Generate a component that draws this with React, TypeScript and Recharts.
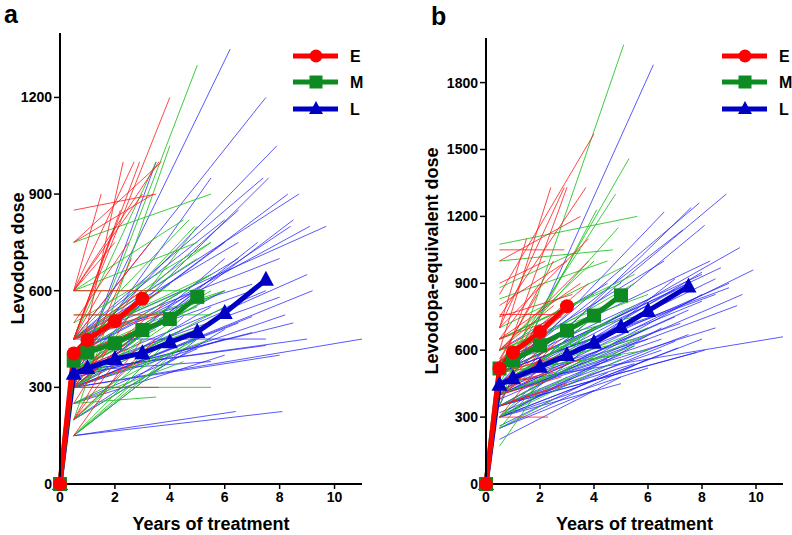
import React from 'react';
import { LineChart, Line, XAxis, YAxis } from 'recharts';

// ---------- shared ----------
const START_YEAR = 0.5;
const xTicks = [0, 2, 4, 6, 8, 10];
const groupNames = ['E', 'M', 'L'];

const yearsE = [0, 0.5, 1, 2, 3];
const yearsM = [0, 0.5, 1, 2, 3, 4, 5];
const yearsL = [0, 0.5, 1, 2, 3, 4, 5, 6, 7.5];

// ---------- panel a : Levodopa dose ----------
const aYTicks = [0, 300, 600, 900, 1200];
const aMeanE = [0, 405, 447, 505, 575];
const aMeanM = [0, 383, 408, 437, 478, 512, 581];
const aMeanL = [0, 342, 360, 388, 406, 440, 472, 531, 634];

// individual subjects: [start value at 0.5 y, end year, end value]
const aLinesE: number[][] = [
  [850, 3.5, 900], [750, 3.7, 1000], [750, 3.4, 900], [450, 4.0, 1200], [300, 2.3, 1000],
  [450, 2.9, 1000], [600, 3.6, 1000], [600, 2.7, 1000], [450, 3.3, 750], [600, 3.0, 900],
  [450, 2.0, 800], [300, 2.6, 700], [450, 3.0, 600], [525, 3.6, 525], [300, 3.6, 300],
  [200, 3.5, 450], [150, 3.0, 450], [300, 3.3, 500], [450, 3.7, 600], [400, 3.0, 580],
  [500, 2.5, 750], [350, 2.8, 600], [250, 2.5, 520], [600, 1.5, 900], [450, 2.2, 850],
  [330, 3.8, 560], [200, 2.2, 400], [450, 3.9, 530], [600, 2.0, 750], [300, 1.8, 450],
  [450, 3.0, 520], [300, 2.0, 450], [400, 3.5, 500], [450, 1.5, 600], [350, 2.5, 420],
  [200, 1.5, 350], [600, 3.5, 600], [300, 3.0, 380],
];
const aLinesM: number[][] = [
  [300, 5.0, 1300], [200, 4.0, 1050], [750, 5.5, 900], [450, 4.7, 820], [400, 4.9, 800],
  [450, 5.5, 750], [600, 5.3, 600], [300, 5.5, 300], [150, 4.0, 450], [525, 5.5, 525],
  [250, 3.5, 270], [450, 5.0, 700], [600, 4.5, 820], [400, 6.0, 600], [350, 5.5, 600],
  [300, 4.5, 560], [150, 5.5, 500], [200, 4.5, 520], [450, 3.5, 1000], [300, 5.0, 800],
  [400, 5.5, 650], [350, 4.0, 550], [250, 5.0, 450], [450, 4.5, 600], [500, 5.5, 750],
  [300, 3.0, 450], [150, 2.5, 300], [350, 5.5, 580], [600, 5.0, 750], [200, 3.5, 420],
  [300, 4.0, 500], [350, 5.0, 480], [400, 4.0, 620], [300, 5.5, 450], [450, 6.0, 600],
  [250, 4.5, 380], [350, 3.5, 480], [400, 5.0, 550], [200, 4.0, 380], [300, 6.0, 550],
  [450, 5.5, 650], [150, 3.5, 350],
];
const aLinesL: number[][] = [
  [350, 6.2, 1350], [450, 7.5, 1200], [400, 7.9, 1050], [450, 7.4, 950], [350, 7.6, 950],
  [400, 8.3, 900], [450, 8.7, 900], [300, 8.5, 820], [350, 8.4, 800], [400, 9.1, 800],
  [450, 9.7, 800], [300, 7.2, 750], [450, 6.5, 750], [300, 9.2, 600], [300, 11.0, 450],
  [150, 8.1, 225], [150, 6.4, 225], [350, 9.0, 450], [300, 8.0, 400], [450, 7.5, 450],
  [330, 8.5, 500], [300, 8.2, 525], [350, 7.5, 600], [400, 7.0, 600], [300, 6.0, 700],
  [150, 5.0, 450], [300, 5.5, 550], [200, 6.0, 480], [300, 3.5, 1000], [350, 5.5, 950],
  [400, 6.5, 850], [450, 7.0, 620], [300, 6.5, 500], [350, 7.5, 430], [250, 6.0, 400],
  [330, 7.0, 470], [300, 5.0, 600], [400, 6.0, 750], [350, 5.5, 380], [450, 8.0, 700],
  [300, 4.0, 550], [350, 6.0, 600], [300, 7.0, 520], [400, 5.0, 600], [250, 5.0, 420],
  [300, 4.5, 480], [350, 8.0, 580], [400, 6.5, 700], [300, 6.0, 450], [200, 4.0, 400],
  [330, 9.0, 650], [450, 6.0, 820],
];

// ---------- panel b : Levodopa-equivalent dose ----------
const bYTicks = [0, 300, 600, 900, 1200, 1500, 1800];
const bMeanE = [0, 518, 590, 682, 797];
const bMeanM = [0, 518, 555, 622, 688, 755, 846];
const bMeanL = [0, 445, 474, 526, 578, 633, 704, 776, 886];

const bLinesE: number[][] = [
  [1050, 2.9, 1050], [1000, 3.5, 1200], [850, 4.0, 1570], [600, 2.4, 1330], [700, 2.9, 1330],
  [500, 3.0, 1330], [750, 3.7, 1330], [300, 2.3, 300], [760, 2.6, 760], [600, 3.8, 1000],
  [650, 3.5, 900], [550, 2.5, 1000], [450, 2.8, 650], [400, 2.0, 550], [350, 3.0, 450],
  [500, 3.2, 800], [700, 1.5, 1100], [600, 2.0, 700], [450, 2.5, 500], [550, 3.8, 900],
  [380, 2.5, 620], [800, 3.0, 1000], [650, 2.0, 900], [300, 1.8, 500], [500, 3.5, 600],
  [700, 3.8, 1100], [900, 2.2, 1000], [560, 1.9, 850],
  [500, 2.0, 650], [450, 3.0, 700], [600, 2.5, 800], [400, 2.8, 480], [550, 3.2, 700],
  [650, 2.8, 750], [350, 2.2, 420], [750, 3.2, 850], [500, 1.5, 600], [420, 3.5, 560],
];
const bLinesM: number[][] = [
  [350, 5.1, 1970], [1075, 5.6, 1200], [450, 5.3, 1460], [500, 4.8, 1300], [400, 4.1, 1230],
  [550, 4.9, 1150], [1000, 4.7, 1050], [830, 4.5, 1000], [650, 5.0, 900], [600, 6.0, 850],
  [170, 2.0, 430], [300, 5.0, 560], [450, 6.0, 700], [500, 5.5, 650], [400, 4.5, 800],
  [600, 4.0, 1000], [350, 3.5, 550], [550, 5.5, 900], [700, 5.2, 980], [450, 4.0, 700],
  [250, 3.0, 600], [500, 6.0, 600], [650, 4.0, 850], [400, 5.5, 620], [550, 3.0, 800],
  [300, 4.0, 700], [600, 5.5, 750], [880, 3.5, 1050],
  [400, 3.5, 650], [500, 4.5, 720], [350, 4.0, 520], [450, 5.5, 800], [300, 3.0, 480],
  [600, 4.8, 820], [400, 6.0, 670], [550, 4.0, 650], [250, 2.5, 380], [500, 5.0, 580],
  [450, 3.0, 620], [650, 5.5, 940],
];
const bLinesL: number[][] = [
  [350, 6.2, 1880], [450, 8.9, 1300], [500, 7.9, 1260], [400, 7.6, 1240], [450, 6.6, 1220],
  [400, 8.1, 1160], [500, 7.3, 1140], [450, 9.4, 1060], [500, 8.7, 970], [400, 9.9, 960],
  [550, 6.6, 1000], [450, 11.0, 660], [350, 8.1, 600], [400, 9.3, 800], [300, 7.1, 610],
  [350, 7.5, 670], [300, 7.0, 920], [450, 8.5, 920], [350, 8.0, 850], [250, 6.0, 560],
  [200, 5.0, 480], [400, 7.0, 750], [500, 8.5, 850], [450, 7.5, 900], [350, 6.0, 700],
  [300, 5.5, 620], [400, 6.5, 650], [450, 9.0, 900], [500, 6.0, 800], [260, 4.5, 500],
  [350, 5.0, 580], [400, 8.0, 950], [300, 6.5, 700], [450, 4.0, 700], [500, 5.0, 700],
  [350, 7.8, 590], [600, 4.5, 900], [400, 3.5, 700], [320, 7.0, 640], [550, 8.3, 1000],
  [400, 7.5, 780], [450, 8.0, 820], [350, 6.5, 600], [500, 7.0, 870], [300, 8.0, 650],
  [400, 8.5, 700], [450, 6.0, 650], [350, 5.5, 540], [500, 9.0, 880], [300, 6.0, 520],
  [250, 4.0, 420], [400, 4.5, 560], [450, 7.2, 720], [380, 9.5, 850], [520, 8.0, 940],
  [300, 5.0, 450],
];

// ---------- styles ----------
const THIN = { E: '#ff1a1a', M: '#1fc21f', L: '#2222ff' };
const MEAN = { E: '#ff0000', M: '#0e8a22', L: '#0000c4' };
const FONT = 'Arial, "Liberation Sans", Helvetica, sans-serif';

const toSeg = (l: number[]) => [
  { x: START_YEAR, y: l[0] },
  { x: l[1], y: l[2] },
];
const toMean = (years: number[], vals: number[]) => years.map((x, i) => ({ x, y: vals[i] }));

const circleDot = (color: string) => (p: any) => {
  if (p.cx == null || p.cy == null) return <g key={`c${p.index}`} />;
  return <circle key={`c${p.index}`} cx={p.cx} cy={p.cy} r={7} fill={color} />;
};
const squareDot = (color: string) => (p: any) => {
  if (p.cx == null || p.cy == null) return <g key={`s${p.index}`} />;
  return <rect key={`s${p.index}`} x={p.cx - 7} y={p.cy - 7} width={14} height={14} fill={color} />;
};
const triDot = (color: string) => (p: any) => {
  if (p.cx == null || p.cy == null) return <g key={`t${p.index}`} />;
  return (
    <polygon
      key={`t${p.index}`}
      points={`${p.cx},${p.cy - 9} ${p.cx - 8},${p.cy + 6} ${p.cx + 8},${p.cy + 6}`}
      fill={color}
    />
  );
};

const LegendBox = ({ left, top }: { left: number; top: number }) => {
  const rows = [
    { name: groupNames[0], color: MEAN.E, shape: 'c', y: 16 },
    { name: groupNames[1], color: MEAN.M, shape: 's', y: 42 },
    { name: groupNames[2], color: MEAN.L, shape: 't', y: 69 },
  ];
  return (
    <svg width={80} height={85} style={{ position: 'absolute', left, top, display: 'block' }}>
      {rows.map((r) => (
        <g key={r.name}>
          <line x1={3} x2={48} y1={r.y} y2={r.y} stroke={r.color} strokeWidth={5} />
          {r.shape === 'c' && <circle cx={26} cy={r.y} r={6.5} fill={r.color} />}
          {r.shape === 's' && <rect x={19.5} y={r.y - 6.5} width={13} height={13} fill={r.color} />}
          {r.shape === 't' && (
            <polygon points={`26,${r.y - 8} 19,${r.y + 5} 33,${r.y + 5}`} fill={r.color} />
          )}
          <text
            x={60}
            y={r.y}
            dominantBaseline="central"
            fontFamily={FONT}
            fontWeight="bold"
            fontSize={16}
            fill="#000"
          >
            {r.name}
          </text>
        </g>
      ))}
    </svg>
  );
};

const tickStyle = { fontFamily: FONT, fontWeight: 'bold' as const, fontSize: 14, fill: '#000' };

type PanelProps = {
  yMax: number;
  yTicks: number[];
  yTitle: string;
  yAxisWidth: number;
  yTitleX: number;
  margin: { top: number; right: number; left: number; bottom: number };
  linesE: number[][];
  linesM: number[][];
  linesL: number[][];
  meanE: number[];
  meanM: number[];
  meanL: number[];
};

const Panel = (p: PanelProps) => (
  <LineChart width={396} height={535} margin={p.margin}>
    <XAxis
      type="number"
      dataKey="x"
      domain={[0, 11]}
      ticks={xTicks}
      height={45}
      tick={tickStyle}
      tickSize={5}
      tickMargin={3}
      axisLine={{ stroke: '#000', strokeWidth: 2 }}
      tickLine={{ stroke: '#000', strokeWidth: 1.5 }}
      label={(lp: any) => {
        const vb = lp.viewBox || {};
        return (
          <text
            x={vb.x + vb.width / 2}
            y={vb.y + 46}
            textAnchor="middle"
            fontFamily={FONT}
            fontWeight="bold"
            fontSize={18}
            fill="#000"
          >
            Years of treatment
          </text>
        );
      }}
    />
    <YAxis
      type="number"
      dataKey="y"
      domain={[0, p.yMax]}
      ticks={p.yTicks}
      width={p.yAxisWidth}
      tick={tickStyle}
      tickSize={6}
      tickMargin={2}
      axisLine={{ stroke: '#000', strokeWidth: 2 }}
      tickLine={{ stroke: '#000', strokeWidth: 1.5 }}
      label={(lp: any) => {
        const vb = lp.viewBox || {};
        const cy = vb.y + vb.height / 2;
        return (
          <text
            x={p.yTitleX}
            y={cy}
            transform={`rotate(-90 ${p.yTitleX} ${cy})`}
            textAnchor="middle"
            dominantBaseline="central"
            fontFamily={FONT}
            fontWeight="bold"
            fontSize={18}
            fill="#000"
          >
            {p.yTitle}
          </text>
        );
      }}
    />
    {p.linesL.map((l, i) => (
      <Line key={`l${i}`} data={toSeg(l)} dataKey="y" stroke={THIN.L} strokeOpacity={0.75} strokeWidth={1}
        dot={false} activeDot={false} isAnimationActive={false} />
    ))}
    {p.linesM.map((l, i) => (
      <Line key={`m${i}`} data={toSeg(l)} dataKey="y" stroke={THIN.M} strokeOpacity={0.85} strokeWidth={1}
        dot={false} activeDot={false} isAnimationActive={false} />
    ))}
    {p.linesE.map((l, i) => (
      <Line key={`e${i}`} data={toSeg(l)} dataKey="y" stroke={THIN.E} strokeOpacity={0.8} strokeWidth={1}
        dot={false} activeDot={false} isAnimationActive={false} />
    ))}
    <Line data={toMean(yearsL, p.meanL)} dataKey="y" stroke={MEAN.L} strokeWidth={5}
      dot={triDot(MEAN.L)} activeDot={false} isAnimationActive={false} />
    <Line data={toMean(yearsM, p.meanM)} dataKey="y" stroke={MEAN.M} strokeWidth={5}
      dot={squareDot(MEAN.M)} activeDot={false} isAnimationActive={false} />
    <Line data={toMean(yearsE, p.meanE)} dataKey="y" stroke={MEAN.E} strokeWidth={5}
      dot={circleDot(MEAN.E)} activeDot={false} isAnimationActive={false} />
  </LineChart>
);

export default function App() {
  return (
    <div style={{ position: 'absolute', left: 0, top: 0, width: 792, height: 535, background: '#fff', overflow: 'hidden' }}>
      <div style={{ position: 'absolute', left: 0, top: 0, width: 396, height: 535 }}>
        <Panel
          yMax={1400}
          yTicks={aYTicks}
          yTitle="Levodopa dose"
          yAxisWidth={50}
          yTitleX={18}
          margin={{ top: 33, right: 34, left: 10, bottom: 6 }}
          linesE={aLinesE}
          linesM={aLinesM}
          linesL={aLinesL}
          meanE={aMeanE}
          meanM={aMeanM}
          meanL={aMeanL}
        />
        <LegendBox left={290} top={40} />
        <div style={{ position: 'absolute', left: 4, top: 0, fontFamily: FONT, fontWeight: 'bold', fontSize: 25, lineHeight: '28px' }}>a</div>
      </div>
      <div style={{ position: 'absolute', left: 396, top: 0, width: 396, height: 535 }}>
        <Panel
          yMax={2000}
          yTicks={bYTicks}
          yTitle="Levodopa-equivalent dose"
          yAxisWidth={80}
          yTitleX={36}
          margin={{ top: 38, right: 9, left: 10, bottom: 6 }}
          linesE={bLinesE}
          linesM={bLinesM}
          linesL={bLinesL}
          meanE={bMeanE}
          meanM={bMeanM}
          meanL={bMeanL}
        />
        <LegendBox left={323} top={40} />
        <div style={{ position: 'absolute', left: 35, top: 2, fontFamily: FONT, fontWeight: 'bold', fontSize: 25, lineHeight: '28px' }}>b</div>
      </div>
    </div>
  );
}
